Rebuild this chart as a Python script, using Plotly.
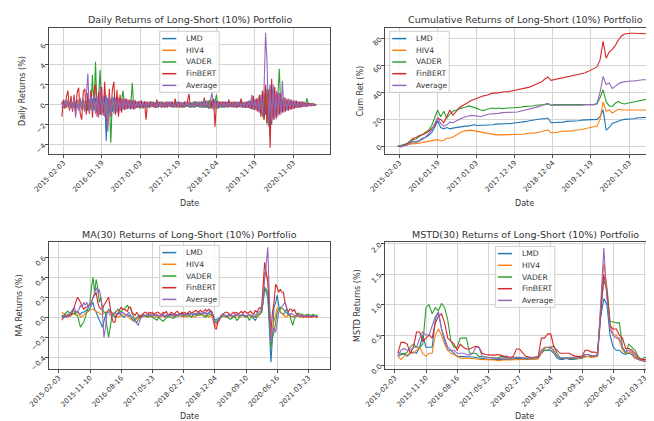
import pandas as pd
import plotly.graph_objects as go

W, H = 654, 421
FONT = "DejaVu Sans"
TXT = "#333333"

series_names = ["LMD", "HIV4", "VADER", "FinBERT", "Average"]
series_colors = ["#1f77b4", "#ff7f0e", "#2ca02c", "#d62728", "#9467bd"]

# sampled dates
dates_daily = pd.date_range("2015-01-19", periods=167, freq="14D")
dates_top = pd.date_range("2015-01-19", periods=84, freq="28D")
dates_ma = pd.date_range("2015-03-02", periods=165, freq="14D")
dates_bottom = pd.date_range("2015-03-02", periods=83, freq="28D")

top_ticks = ["2015-02-03", "2016-01-19", "2017-01-03", "2017-12-19",
             "2018-12-04", "2019-11-19", "2020-11-03"]
bottom_ticks = ["2015-02-03", "2015-11-10", "2016-08-16", "2017-05-23",
                "2018-02-27", "2018-12-04", "2019-09-10", "2020-06-16", "2021-03-23"]

# ---------------- Daily returns (%) ----------------
daily_lmd = [
    0.3, -0.2, 0.4, -0.3, 0.2, -0.4, 0.5, -0.3, 0.3, -0.5,
    0.4, -0.3, 0.6, -0.4, 0.3, -0.5, 0.4, -0.6, 0.5, -0.4,
    0.6, -0.5, 0.7, -0.6, 0.8, -1.0, 0.6, -0.8, 0.9, -3.6,
    0.7, -0.9, 0.6, -0.7, 0.8, -0.6, 0.5, -0.9, 0.6, -0.5,
    0.4, -0.5, 0.5, -0.4, 0.3, -0.5, 0.4, -0.3, 0.4, -0.3,
    0.3, -0.4, 0.3, -0.2, 0.3, -0.3, 0.2, -0.3, 0.3, -0.2,
    0.2, -0.3, 0.2, -0.2, 0.3, -0.2, 0.2, -0.3, 0.2, -0.2,
    0.3, -0.2, 0.2, -0.2, 0.3, -0.3, 0.2, -0.2, 0.2, -0.3,
    0.2, -0.2, 0.3, -0.2, 0.2, -0.3, 0.2, -0.2, 0.3, -0.2,
    0.2, -0.3, 0.3, -0.2, 0.3, -0.3, 0.4, -0.3, 0.4, -0.5,
    0.5, -0.4, 0.3, -0.3, 0.2, -0.3, 0.3, -0.2, 0.2, -0.3,
    0.2, -0.2, 0.3, -0.2, 0.2, -0.3, 0.2, -0.2, 0.3, -0.3,
    0.2, -0.3, 0.3, -0.4, 0.3, -0.5, 0.4, -0.4, 0.5, -0.6,
    0.6, -0.8, 1.2, -1.0, 1.6, -1.5, 2.0, -2.0, 1.5, -1.2,
    1.0, -0.9, 0.8, -0.7, 0.6, -0.6, 0.5, -0.5, 0.4, -0.4,
    0.3, -0.3, 0.3, -0.3, 0.2, -0.3, 0.2, -0.2, 0.2, -0.2,
    0.1, -0.1, 0.1, -0.1, 0.1, -0.05, 0.05]
daily_hiv4 = [
    -0.3, 0.3, -0.2, 0.4, -0.3, 0.3, -0.4, 0.3, -0.3, 0.4,
    -0.4, 0.5, -0.3, 0.4, -0.5, 0.4, -0.3, 0.5, -0.4, 0.3,
    -0.5, 0.6, -0.5, 0.7, -0.6, 0.5, -0.7, 0.6, -0.5, 0.6,
    -0.6, 0.5, -0.5, 0.6, -0.4, 0.5, -0.4, 0.4, -0.5, 0.4,
    -0.4, 0.3, -0.3, 0.4, -0.3, 0.3, -0.3, 0.3, -0.2, 0.3,
    -0.3, 0.2, -0.3, 0.2, -0.2, 0.3, -0.2, 0.2, -0.3, 0.2,
    -0.2, 0.2, -0.3, 0.2, -0.2, 0.3, -0.2, 0.2, -0.2, 0.3,
    -0.2, 0.2, -0.3, 0.2, -0.2, 0.2, -0.3, 0.2, -0.2, 0.2,
    -0.3, 0.2, -0.2, 0.3, -0.2, 0.2, -0.2, 0.3, -0.2, 0.2,
    -0.3, 0.2, -0.2, 0.3, -0.3, 0.3, -0.3, 0.4, -0.4, 0.3,
    -0.4, 0.3, -0.3, 0.2, -0.2, 0.3, -0.2, 0.2, -0.3, 0.2,
    -0.2, 0.3, -0.2, 0.2, -0.3, 0.2, -0.2, 0.2, -0.3, 0.2,
    -0.3, 0.2, -0.3, 0.3, -0.4, 0.3, -0.4, 0.5, -0.5, 0.6,
    -0.9, 1.0, -1.5, 1.8, -1.6, 1.4, -1.2, 1.0, -0.9, 0.8,
    -0.8, 0.6, -0.6, 0.5, -0.5, 0.4, -0.4, 0.3, -0.3, 0.3,
    -0.3, 0.2, -0.2, 0.2, -0.2, 0.2, -0.2, 0.1, -0.1, 0.1,
    -0.1, 0.1, -0.1, 0.05, -0.05, 0.05, -0.05]
daily_vader = [
    0.2, -0.3, 0.3, -0.2, 0.4, -0.3, 0.3, -0.4, 0.5, -0.3,
    0.4, -0.5, 0.5, -0.4, 0.6, -0.5, 0.4, -0.6, 0.5, -0.5,
    3.0, -0.6, 4.3, -0.7, 0.6, 3.5, -0.8, 0.7, -0.9, 0.8,
    -0.9, 0.6, -3.8, 0.7, -0.6, 0.6, -0.7, 0.5, -0.6, 0.5,
    1.4, -0.4, 0.5, -0.4, 0.4, -0.3, 2.2, -0.4, 0.4, -0.3,
    0.3, -0.3, 0.3, -0.4, 0.3, -0.3, 0.2, -0.3, 0.3, -0.2,
    0.3, -0.3, 0.2, -0.3, 0.2, -0.2, 0.3, -0.2, 0.2, -0.3,
    0.2, -0.2, 0.3, -0.3, 0.2, -0.2, 0.3, -0.2, 0.2, -0.3,
    0.3, -0.2, 0.2, -0.3, 0.2, -0.2, 0.3, -0.3, 0.2, -0.2,
    0.3, -0.2, 0.3, -0.3, 0.4, -0.3, 0.4, -0.4, 0.4, -0.3,
    0.4, 1.0, -0.4, 0.3, -0.3, 0.2, -0.3, 0.2, -0.2, 0.3,
    -0.2, 0.2, -0.3, 0.2, -0.2, 0.3, -0.2, 0.2, -0.3, 0.2,
    -0.3, 0.3, -0.3, 0.4, -0.4, 0.5, -0.5, 0.6, -0.6, 0.8,
    -1.0, 1.4, -1.4, 1.8, -2.0, 1.5, -3.0, 1.6, -1.2, 1.0,
    -0.9, 0.8, 3.6, -0.7, 0.6, -0.6, 0.5, -0.5, 0.4, -0.4,
    0.4, -0.3, 0.3, -0.3, 0.3, -0.2, 0.3, -0.2, 0.3, -0.2,
    0.67, -0.1, 0.1, -0.1, 0.1, -0.05, 0.05]
daily_finbert = [
    -1.2, 0.5, -0.4, 0.8, 1.4, -0.6, 0.9, -0.7, 1.0, -0.8,
    1.2, 1.7, -0.9, -1.5, 1.3, 1.6, -1.0, 1.2, -0.9, 1.5,
    -1.3, 1.4, 2.0, -1.2, 1.3, -1.0, 1.8, -1.1, 2.3, -1.4,
    -2.0, 1.6, -1.2, 1.5, 2.3, -1.0, 1.5, -1.2, 1.0, -0.8,
    0.6, -0.5, 0.6, -0.4, 0.5, -0.4, 0.4, -0.5, 0.4, -0.3,
    0.3, -0.3, 0.4, -0.3, 0.3, -1.5, 0.3, -0.2, 0.3, -0.2,
    0.2, -0.3, 0.5, -0.2, 0.2, -0.3, 0.2, -0.2, 0.3, -0.2,
    0.2, -0.2, 0.3, -0.2, 0.6, -0.2, 0.2, -0.3, 0.2, -0.2,
    0.3, -0.2, 0.3, 1.1, -0.3, 0.2, -0.2, 0.3, -0.2, 0.2,
    -0.2, 0.3, -0.3, 0.7, -0.3, 0.3, -0.4, 0.5, -0.3, 0.6,
    -2.2, 0.4, -0.3, 0.3, -0.2, 0.3, -0.2, 0.3, -0.2, 0.5,
    -0.2, 0.2, -0.2, 0.3, -0.3, 0.2, -0.2, 0.6, -0.2, 0.2,
    -0.3, 0.3, -0.3, 0.4, -0.4, 0.9, -0.5, 0.6, -0.7, 1.0,
    -1.2, 1.4, -1.5, 2.0, -1.8, 1.5, -4.3, 2.6, -1.5, 1.8,
    -1.4, 1.2, -1.0, 1.1, -0.8, 0.8, -0.7, 0.6, -0.6, 0.5,
    -0.5, 0.4, -0.4, 0.4, -0.3, 0.3, -0.3, 0.3, -0.2, 0.2,
    -0.2, 0.2, -0.1, 0.1, -0.1, 0.05, -0.05]
daily_average = [
    0.2, -0.3, 0.4, -0.3, 0.5, -0.4, 0.4, -0.5, 0.6, -1.3,
    0.5, -0.6, 0.7, -0.5, 0.6, -0.7, 0.8, 3.1, -0.8, 0.9,
    -0.7, 1.0, -0.9, 0.8, -1.3, 1.9, -1.0, 0.9, -1.2, 1.0,
    -2.7, 0.9, -1.0, 0.8, -0.9, 0.7, -0.8, 0.7, -0.6, 0.6,
    -0.5, 0.6, -0.5, 0.5, -0.4, 0.5, -0.4, 0.4, -0.4, 0.3,
    -0.3, 0.4, -0.3, 0.3, -0.3, 0.3, -0.3, 0.3, -0.2, 0.3,
    -0.3, 0.2, -0.3, 0.3, -0.2, 0.3, -0.3, 0.2, -0.3, 0.3,
    -0.2, 0.3, -0.3, 0.2, -0.3, 0.3, -0.2, 0.3, -0.3, 0.2,
    -0.3, 0.3, -0.2, 0.3, -0.3, 0.2, -0.3, 0.3, -0.2, 0.3,
    -0.3, 0.3, -0.3, 0.4, -0.3, 0.4, -0.4, 0.4, 1.2, -0.5,
    0.4, -0.4, 0.3, -0.3, 0.3, -0.3, 0.2, -0.3, 0.3, -0.2,
    0.3, -0.3, 0.2, -0.3, 0.3, -0.2, 0.3, -0.3, 0.2, -0.3,
    0.3, -0.3, 0.4, -0.4, 1.0, -0.5, 0.5, -0.6, 0.7, -0.8,
    1.0, -1.2, 1.5, 7.2, 4.1, -2.2, 1.8, -1.6, 2.0, -1.5,
    1.4, -1.2, 1.2, -1.0, 2.4, -0.8, 0.7, -0.6, 0.6, -0.5,
    0.5, -0.4, 0.4, -0.3, 0.3, -0.3, 0.3, -0.2, 0.2, -0.2,
    0.1, -0.1, 0.1, -0.05, 0.05, -0.03, 0.02]

# ---------------- Cumulative returns (%) ----------------
cum_lmd = [
    0, 0, 0.5, 1, 2, 3.5, 3, 4, 6, 6.5,
    8, 10, 14, 19, 14, 13, 14, 13, 13.5, 14,
    14.5, 14.5, 15, 15, 15.5, 16, 15.5, 15.5, 16, 16,
    16, 16, 16.5, 16.5, 16.5, 17, 17, 17, 17.3, 17.5,
    18, 18, 18.5, 19, 19.5, 20, 20, 20.5, 20.5, 21,
    17.5, 17.5, 18, 18, 18, 18.5, 18.5, 19, 19, 19,
    19.5, 19.5, 19.5, 20, 20, 20, 22, 27, 12, 14,
    17, 18, 19, 19.5, 20, 20, 20.5, 20.5, 21, 21,
    21.5, 21.5, 22, 22.2]
cum_hiv4 = [
    0, 0.5, 1, 1, 1.5, 2, 2, 2.5, 2.5, 3,
    3.5, 4, 5, 5, 4, 4.5, 6, 6, 7, 8.5,
    10, 11, 11.5, 12, 12, 11.5, 11, 10.5, 10, 9.5,
    9, 9, 8.5, 8.5, 8.5, 8.5, 8.5, 8.5, 8.6, 8.6,
    9, 9, 9.5, 9.5, 10, 10, 10.5, 11, 11.5, 12.3,
    9.9, 10, 10.5, 11, 11, 11, 11.5, 11.5, 12, 12,
    12.5, 13, 13.5, 14, 14.5, 15, 20, 33, 26, 27,
    24.7, 26, 27.5, 27, 27, 26.5, 26.5, 26.5, 26.5, 27,
    27, 27, 27, 27.2]
cum_vader = [
    0, 0.5, 1, 2, 3, 5, 5.5, 7, 9, 10,
    12, 15, 21, 27, 22, 26, 21, 24, 26, 27,
    28, 28.5, 29, 30, 29.5, 29, 28, 27, 26.5, 27.5,
    28, 28.5, 28, 28.5, 28, 28.5, 28.5, 28.5, 28.5, 29,
    29, 29.5, 29.5, 30, 30, 30.5, 30.5, 31, 31, 31.5,
    30.5, 31, 31, 30.5, 31, 31, 30.5, 30.5, 31, 31,
    31, 31, 31, 31, 31, 31.5, 36, 42, 33, 30,
    29.6, 32, 33.3, 32, 31.5, 32, 32.5, 33, 33.5, 34,
    34.5, 35, 35.5, 35.8]
cum_finbert = [
    0, -0.5, 1, 2, 4, 6, 6.5, 8, 8.6, 9.5,
    11, 13, 15, 21, 20, 17.5, 22, 27, 23, 26,
    28.5, 30, 31.5, 33, 34, 35, 36, 37, 37.5, 38,
    39, 39.5, 39.5, 40, 40, 40.5, 40.5, 41, 41, 41.5,
    42, 42.5, 43, 44, 45, 46, 47, 48, 50, 51.5,
    49, 49.5, 50, 50.5, 51, 51.5, 51.5, 52, 52.5, 53,
    53.5, 54.5, 55.5, 56.5, 57.5, 59, 64, 78, 65.5, 70,
    72, 75, 79, 82, 83.5, 84, 84, 84, 84, 84,
    84, 83.5, 83.5, 83.5]
cum_average = [
    0, 0, 0.5, 1, 2, 3.6, 3.5, 4.5, 5, 7,
    9, 12, 16, 21, 17, 15, 16, 18, 17.5, 19,
    20, 21, 22, 22.5, 23, 23, 22.5, 22, 23, 23.5,
    24, 24, 24.5, 24.5, 25, 25, 25, 25, 25, 25.5,
    26, 26.5, 27, 28, 28.5, 29, 29.5, 30.5, 31, 32,
    30.5, 30.5, 30.5, 30.5, 30.5, 30.5, 30, 30, 30.5, 30.5,
    30.5, 31, 31, 31, 31, 32, 40, 52, 46, 47,
    43, 44.5, 46.5, 47.5, 48, 48, 48.5, 48.5, 49, 49,
    49.5, 49.5, 50, 50]

# ---------------- MA(30) returns (%) ----------------
ma_lmd = [
    0.02, 0.01, 0.0, 0.02, 0.03, 0.01, 0.02, 0.04, 0.04, 0.05,
    0.06, 0.04, 0.03, 0.05, 0.05, 0.06, 0.08, 0.06, 0.1, 0.12,
    0.15, 0.08, 0.05, 0.0, -0.03, -0.06, -0.1, -0.04, 0.02, 0.05,
    0.08, 0.06, 0.05, 0.02, 0.0, 0.02, 0.03, 0.04, 0.02, 0.01,
    0.0, 0.02, 0.03, 0.01, 0.02, -0.02, -0.04, -0.02, 0.0, 0.01,
    0.02, 0.0, 0.01, 0.02, 0.01, 0.03, 0.02, 0.01, 0.02, 0.03,
    0.01, 0.02, 0.0, 0.01, 0.02, 0.03, 0.01, 0.02, 0.03, 0.02,
    0.03, 0.01, 0.02, 0.03, 0.01, 0.02, 0.03, 0.04, 0.02, 0.03,
    0.02, 0.04, 0.03, 0.04, 0.02, 0.03, 0.02, 0.03, 0.04, 0.03,
    0.03, 0.04, 0.05, 0.03, 0.04, 0.06, 0.05, 0.02, -0.03, -0.02,
    -0.02, 0.0, 0.0, 0.01, 0.02, 0.02, 0.01, 0.03, 0.02, 0.0,
    0.0, 0.01, 0.02, 0.03, 0.02, 0.02, 0.03, 0.01, 0.02, 0.01,
    0.03, 0.02, 0.0, -0.02, -0.03, 0.0, 0.02, 0.04, 0.05, 0.15,
    0.3, 0.25, 0.2, -0.1, -0.45, -0.2, 0.1, 0.15, 0.22, 0.12,
    0.05, 0.04, 0.03, 0.05, 0.08, 0.05, 0.02, 0.01, 0.0, 0.01,
    0.02, 0.01, 0.01, 0.0, 0.01, 0.02, 0.01, 0.01, 0.02, 0.01,
    0.01, 0.02, 0.01, 0.01, 0.01]
ma_hiv4 = [
    0.05, 0.04, 0.03, 0.02, 0.0, 0.01, 0.02, 0.03, 0.03, 0.04,
    0.05, 0.03, 0.0, 0.01, 0.02, 0.04, 0.05, 0.06, 0.07, 0.08,
    0.08, 0.07, 0.06, 0.05, 0.04, 0.03, 0.03, 0.04, 0.05, 0.06,
    0.06, 0.05, 0.05, 0.03, 0.02, 0.01, 0.0, 0.01, 0.01, 0.02,
    0.03, 0.02, 0.01, 0.0, -0.02, -0.03, -0.03, -0.02, -0.02, 0.0,
    0.0, 0.01, 0.01, 0.02, 0.02, 0.01, 0.0, 0.01, 0.01, 0.0,
    0.0, 0.01, 0.01, 0.0, 0.02, 0.01, 0.0, 0.01, 0.01, 0.02,
    0.02, 0.01, 0.0, 0.01, 0.02, 0.01, 0.01, 0.02, 0.0, 0.01,
    0.0, 0.01, 0.02, 0.01, 0.01, 0.0, 0.01, 0.02, 0.03, 0.02,
    0.03, 0.02, 0.02, 0.01, 0.0, 0.01, 0.02, -0.04, -0.09, -0.07,
    -0.04, -0.02, 0.0, 0.01, 0.01, 0.0, 0.0, 0.01, 0.02, 0.01,
    0.0, 0.01, 0.02, 0.01, 0.0, 0.01, 0.02, 0.01, 0.0, 0.01,
    0.02, 0.01, 0.0, 0.0, 0.01, 0.0, 0.02, 0.03, 0.05, 0.2,
    0.45, 0.42, 0.4, 0.1, -0.2, -0.1, -0.05, 0.02, 0.1, 0.08,
    0.05, 0.03, 0.02, 0.01, 0.0, 0.02, 0.03, 0.01, 0.0, 0.01,
    0.01, 0.02, 0.01, 0.0, 0.01, 0.0, 0.01, 0.0, 0.01, 0.0,
    0.01, 0.0, 0.01, 0.01, 0.0]
ma_vader = [
    0.0, 0.02, 0.03, 0.05, 0.06, 0.04, 0.05, 0.07, 0.06, 0.02,
    0.02, -0.04, -0.1, -0.07, -0.05, 0.0, 0.05, 0.08, 0.15, 0.3,
    0.4, 0.25, 0.38, 0.3, 0.15, 0.2, 0.1, 0.05, 0.05, -0.1,
    -0.2, -0.1, 0.0, 0.03, 0.05, 0.06, 0.08, 0.07, 0.05, 0.08,
    0.08, 0.1, 0.12, 0.1, 0.1, 0.04, 0.0, -0.03, -0.05, -0.02,
    0.0, 0.02, 0.03, 0.02, 0.01, 0.0, 0.02, 0.01, 0.0, -0.01,
    -0.02, -0.03, 0.0, -0.02, -0.03, -0.04, -0.02, 0.0, 0.01, 0.0,
    0.0, -0.01, -0.01, 0.01, 0.02, 0.03, 0.03, 0.02, 0.01, 0.02,
    0.03, 0.02, 0.01, 0.0, 0.02, 0.03, 0.04, 0.02, 0.02, 0.03,
    0.03, 0.01, 0.0, 0.02, 0.02, 0.03, 0.02, 0.01, -0.05, -0.04,
    -0.03, -0.01, 0.0, 0.01, 0.02, 0.01, 0.0, -0.01, -0.02, -0.01,
    0.0, 0.01, -0.03, -0.02, 0.01, 0.02, 0.02, 0.01, 0.0, 0.01,
    -0.03, -0.01, 0.02, 0.01, 0.0, 0.02, 0.03, 0.04, 0.05, 0.15,
    0.3, 0.28, 0.25, 0.0, -0.3, -0.2, -0.15, -0.05, 0.05, 0.08,
    0.1, 0.09, 0.08, 0.06, 0.05, 0.02, 0.02, -0.03, -0.08, -0.02,
    0.02, 0.04, 0.04, 0.03, 0.03, 0.02, 0.02, 0.03, 0.03, 0.02,
    0.02, 0.03, 0.02, 0.02, 0.01]
ma_finbert = [
    -0.03, -0.01, 0.02, 0.01, 0.01, 0.02, 0.03, 0.06, 0.1, 0.15,
    0.2, 0.18, 0.15, 0.12, 0.08, 0.1, 0.1, 0.12, 0.12, 0.15,
    0.2, 0.22, 0.25, 0.15, 0.1, 0.08, 0.08, 0.12, 0.15, 0.18,
    0.2, 0.1, 0.0, -0.05, -0.05, 0.02, 0.05, 0.08, 0.1, 0.08,
    0.08, 0.07, 0.06, 0.1, 0.1, 0.05, 0.03, 0.02, 0.05, 0.03,
    0.0, 0.02, 0.04, 0.05, 0.05, 0.03, 0.05, 0.04, 0.05, 0.03,
    0.04, 0.05, 0.05, 0.03, 0.03, 0.05, 0.04, 0.06, 0.02, 0.03,
    0.05, 0.04, 0.03, 0.05, 0.06, 0.04, 0.03, 0.05, 0.04, 0.05,
    0.03, 0.05, 0.06, 0.04, 0.05, 0.06, 0.07, 0.05, 0.06, 0.07,
    0.05, 0.07, 0.08, 0.06, 0.08, 0.07, 0.06, 0.02, -0.1, -0.12,
    -0.05, -0.03, 0.02, 0.03, 0.04, 0.05, 0.05, 0.04, 0.02, 0.04,
    0.05, 0.04, 0.05, 0.03, 0.05, 0.06, 0.04, 0.06, 0.05, 0.04,
    0.05, 0.06, 0.04, 0.03, 0.07, 0.05, 0.08, 0.1, 0.08, 0.3,
    0.55, 0.45, 0.35, 0.1, -0.15, 0.05, 0.15, 0.33, 0.3, 0.25,
    0.28, 0.25, 0.25, 0.15, 0.1, 0.05, 0.08, 0.08, 0.06, 0.08,
    0.04, 0.03, 0.02, 0.02, 0.01, 0.0, 0.01, 0.0, 0.0, 0.01,
    0.0, 0.01, 0.01, 0.0, 0.01]
ma_average = [
    0.0, 0.01, 0.02, 0.0, 0.01, 0.03, 0.05, 0.08, 0.1, 0.05,
    0.05, 0.08, 0.12, 0.1, 0.15, 0.12, 0.15, 0.1, 0.12, 0.15,
    0.2, 0.25, 0.3, 0.25, 0.28, 0.2, 0.05, -0.2, -0.1, 0.05,
    0.05, 0.02, 0.02, 0.04, 0.05, 0.03, 0.04, 0.05, 0.03, 0.05,
    0.04, 0.02, 0.03, 0.05, 0.02, 0.0, -0.02, -0.05, -0.07, -0.08,
    -0.03, 0.0, 0.02, 0.01, 0.02, 0.03, 0.02, 0.03, 0.01, 0.02,
    0.02, 0.03, 0.01, 0.02, 0.01, 0.03, 0.0, 0.02, 0.03, 0.01,
    0.02, 0.03, 0.01, 0.02, 0.03, 0.02, 0.03, 0.01, 0.02, 0.03,
    0.03, 0.02, 0.03, 0.04, 0.03, 0.04, 0.02, 0.04, 0.05, 0.04,
    0.03, 0.05, 0.04, 0.03, 0.05, 0.04, 0.04, 0.0, -0.05, -0.06,
    -0.03, -0.01, 0.01, 0.03, 0.02, 0.01, 0.0, 0.02, 0.03, 0.02,
    0.01, 0.03, 0.02, 0.03, 0.01, 0.02, 0.03, 0.02, 0.01, 0.02,
    0.03, 0.02, 0.01, 0.0, 0.02, 0.04, 0.05, 0.06, 0.08, 0.2,
    0.35, 0.55, 0.7, 0.2, -0.25, -0.15, -0.1, -0.15, -0.05, 0.05,
    0.08, 0.1, 0.12, 0.15, 0.1, 0.03, 0.02, 0.04, 0.03, 0.02,
    0.01, 0.02, 0.02, 0.01, 0.01, 0.02, 0.01, 0.02, 0.01, 0.01,
    0.02, 0.01, 0.01, 0.01, 0.01]

# ---------------- MSTD(30) returns (%) ----------------
mstd_lmd = [
    0.15, 0.18, 0.2, 0.15, 0.2, 0.22, 0.2, 0.3, 0.5, 0.3,
    0.3, 0.3, 0.75, 0.88, 0.6, 0.4, 0.25, 0.25, 0.2, 0.15,
    0.15, 0.15, 0.14, 0.15, 0.14, 0.13, 0.12, 0.12, 0.11, 0.1,
    0.1, 0.1, 0.09, 0.1, 0.1, 0.1, 0.09, 0.1, 0.12, 0.11,
    0.1, 0.1, 0.1, 0.11, 0.1, 0.12, 0.2, 0.25, 0.25, 0.25,
    0.2, 0.12, 0.1, 0.1, 0.12, 0.1, 0.1, 0.1, 0.11, 0.12,
    0.15, 0.15, 0.14, 0.14, 0.15, 0.8, 1.1, 1.0, 0.5, 0.3,
    0.25, 0.25, 0.2, 0.18, 0.2, 0.18, 0.12, 0.1, 0.08, 0.07,
    0.07, 0.06, 0.05]
mstd_hiv4 = [
    0.15, 0.1, 0.15, 0.18, 0.2, 0.2, 0.25, 0.3, 0.2, 0.15,
    0.2, 0.2, 0.5, 0.6, 0.5, 0.35, 0.25, 0.2, 0.18, 0.15,
    0.12, 0.12, 0.12, 0.12, 0.11, 0.11, 0.1, 0.1, 0.09, 0.09,
    0.09, 0.09, 0.08, 0.09, 0.09, 0.09, 0.09, 0.1, 0.1, 0.1,
    0.1, 0.11, 0.1, 0.1, 0.1, 0.11, 0.2, 0.28, 0.3, 0.3,
    0.22, 0.15, 0.12, 0.11, 0.11, 0.12, 0.11, 0.11, 0.12, 0.13,
    0.15, 0.15, 0.13, 0.14, 0.16, 0.9, 1.68, 1.3, 0.7, 0.5,
    0.5, 0.4, 0.25, 0.2, 0.22, 0.2, 0.13, 0.1, 0.08, 0.07,
    0.07, 0.06, 0.04]
mstd_vader = [
    0.2, 0.2, 0.18, 0.22, 0.3, 0.35, 0.3, 0.3, 0.35, 0.95,
    1.0, 0.85, 0.95, 0.9, 1.02, 0.95, 0.75, 0.4, 0.3, 0.3,
    0.45, 0.45, 0.45, 0.2, 0.2, 0.2, 0.15, 0.15, 0.14, 0.13,
    0.13, 0.12, 0.12, 0.15, 0.14, 0.13, 0.12, 0.13, 0.13, 0.14,
    0.13, 0.12, 0.13, 0.12, 0.12, 0.13, 0.25, 0.25, 0.25, 0.3,
    0.32, 0.2, 0.12, 0.12, 0.12, 0.13, 0.12, 0.12, 0.14, 0.13,
    0.18, 0.18, 0.16, 0.16, 0.18, 0.9, 1.4, 1.25, 0.72, 0.72,
    0.7, 0.7, 0.3, 0.2, 0.35, 0.3, 0.25, 0.15, 0.1, 0.13,
    0.13, 0.1, 0.05]
mstd_finbert = [
    0.2, 0.38, 0.38, 0.35, 0.2, 0.3, 0.55, 0.55, 0.4, 0.45,
    0.5, 0.45, 0.7, 0.8, 0.85, 0.7, 0.45, 0.4, 0.35, 0.25,
    0.35, 0.3, 0.27, 0.27, 0.3, 0.32, 0.3, 0.2, 0.18, 0.17,
    0.17, 0.17, 0.18, 0.17, 0.15, 0.15, 0.13, 0.15, 0.27, 0.27,
    0.2, 0.15, 0.14, 0.13, 0.14, 0.15, 0.45, 0.45, 0.52, 0.52,
    0.3, 0.25, 0.2, 0.2, 0.2, 0.2, 0.17, 0.15, 0.15, 0.15,
    0.25, 0.25, 0.22, 0.22, 0.2, 0.9, 1.5, 1.2, 0.65, 0.6,
    0.6, 0.5, 0.45, 0.28, 0.28, 0.25, 0.2, 0.12, 0.1, 0.1,
    0.08, 0.06, 0.05]
mstd_average = [
    0.15, 0.25, 0.28, 0.25, 0.25, 0.3, 0.3, 0.45, 0.55, 0.5,
    0.5, 0.65, 0.8, 0.88, 0.6, 0.45, 0.3, 0.25, 0.25, 0.2,
    0.2, 0.2, 0.18, 0.17, 0.2, 0.3, 0.3, 0.15, 0.14, 0.13,
    0.12, 0.12, 0.11, 0.12, 0.12, 0.11, 0.11, 0.12, 0.14, 0.13,
    0.12, 0.12, 0.12, 0.12, 0.13, 0.14, 0.25, 0.3, 0.3, 0.3,
    0.25, 0.15, 0.12, 0.12, 0.13, 0.12, 0.12, 0.12, 0.13, 0.14,
    0.18, 0.18, 0.16, 0.16, 0.18, 1.0, 1.93, 1.1, 0.6, 0.5,
    0.45, 0.45, 0.3, 0.22, 0.25, 0.22, 0.15, 0.1, 0.08, 0.07,
    0.07, 0.06, 0.05]

panels_data = [
    (dates_daily, [daily_lmd, daily_hiv4, daily_vader, daily_finbert, daily_average]),
    (dates_top, [cum_lmd, cum_hiv4, cum_vader, cum_finbert, cum_average]),
    (dates_ma, [ma_lmd, ma_hiv4, ma_vader, ma_finbert, ma_average]),
    (dates_bottom, [mstd_lmd, mstd_hiv4, mstd_vader, mstd_finbert, mstd_average]),
]
for dts, vals in panels_data:
    for v in vals:
        assert len(v) == len(dts), (len(v), len(dts))

titles = ["Daily Returns of Long-Short (10%) Portfolio",
          "Cumulative Returns of Long-Short (10%) Portfolio",
          "MA(30) Returns of Long-Short (10%) Portfolio",
          "MSTD(30) Returns of Long-Short (10%) Portfolio"]
ylabels = ["Daily Returns (%)", "Cum Ret (%)", "MA Returns (%)", "MSTD Returns (%)"]


def fx(p):
    return p / W


def fy(p):
    return 1 - p / H


def date_at(r0, r1, frac):
    t0, t1 = pd.Timestamp(r0), pd.Timestamp(r1)
    return (t0 + (t1 - t0) * frac).strftime("%Y-%m-%d %H:%M")


top_range = ("2014-09-24", "2021-10-05")
bot_range = ("2014-11-07", "2021-10-02")
LEFT_W = 281.0
RIGHT_W = 654 - 377.0

panels = [
    dict(xd=(41, 322), yd=(20, 146),
         xr=[top_range[0], top_range[1]], yr=[-4.93, 7.67],
         yt=[-4, -2, 0, 2, 4, 6], yf="d", xt=top_ticks, mirror_y=True,
         title_xy=(181.5, 12), date_xy=(181.5, 195.5), ylab_xy=(14, 83),
         leg=(151.7, 23.3)),
    dict(xd=(377, 654), yd=(20, 146),
         xr=[top_range[0], date_at(*top_range, RIGHT_W / LEFT_W)], yr=[-5.7, 87.9],
         yt=[0, 20, 40, 60, 80], yf="d", xt=top_ticks, mirror_y=False,
         title_xy=(517.5, 12), date_xy=(516, 195.5), ylab_xy=(351.5, 83),
         leg=(381.7, 23.3)),
    dict(xd=(41, 322), yd=(234, 361),
         xr=[bot_range[0], bot_range[1]], yr=[-0.517, 0.753],
         yt=[-0.4, -0.2, 0.0, 0.2, 0.4, 0.6], yf=".1f", xt=bottom_ticks, mirror_y=True,
         title_xy=(181.5, 226.5), date_xy=(181.5, 408.5), ylab_xy=(10.5, 298),
         leg=(151.7, 237.3)),
    dict(xd=(377, 654), yd=(234, 361),
         xr=[bot_range[0], date_at(*bot_range, RIGHT_W / LEFT_W)], yr=[-0.058, 2.03],
         yt=[0.0, 0.5, 1.0, 1.5, 2.0], yf=".1f", xt=bottom_ticks, mirror_y=False,
         title_xy=(517.5, 226.5), date_xy=(516, 408.5), ylab_xy=(349, 298),
         leg=(487.3, 238.3)),
]

fig = go.Figure()
layout = dict(
    width=W, height=H, margin=dict(l=0, r=0, t=0, b=0),
    paper_bgcolor="white", plot_bgcolor="white",
    font=dict(family=FONT, color=TXT, size=8),
    showlegend=False,
)
shapes = []
annotations = []

GRID = "#d4d4d4"
SPINE = "#4a4a4a"
TICKFONT = dict(size=7, color=TXT, family=FONT)

for k, (spec, (dts, vals)) in enumerate(zip(panels, panels_data)):
    n = "" if k == 0 else str(k + 1)
    xa, ya = "x" + n, "y" + n
    for name, color, v in zip(series_names, series_colors, vals):
        fig.add_trace(go.Scatter(
            x=dts, y=v, mode="lines", name=name,
            line=dict(color=color, width=1.1),
            xaxis=xa, yaxis=ya, showlegend=False, hoverinfo="skip"))
    layout["xaxis" + n] = dict(
        domain=[fx(spec["xd"][0]), fx(spec["xd"][1])], anchor=ya,
        type="date", range=spec["xr"],
        tickmode="array", tickvals=spec["xt"], ticktext=spec["xt"],
        tickangle=-45, tickfont=TICKFONT, ticklabelstandoff=-2,
        showgrid=True, gridcolor=GRID, gridwidth=1,
        showline=True, linecolor=SPINE, linewidth=1, mirror=True,
        ticks="outside", ticklen=3, tickwidth=1, tickcolor=SPINE,
        zeroline=False, automargin=False, fixedrange=True)
    layout["yaxis" + n] = dict(
        domain=[fy(spec["yd"][1]), fy(spec["yd"][0])], anchor=xa,
        range=spec["yr"], tickmode="array", tickvals=spec["yt"],
        tickformat=spec["yf"], tickangle=-45, tickfont=TICKFONT,
        showgrid=True, gridcolor=GRID, gridwidth=1,
        showline=True, linecolor=SPINE, linewidth=1, mirror=spec["mirror_y"],
        ticks="outside", ticklen=3, tickwidth=1, tickcolor=SPINE,
        zeroline=False, automargin=False, fixedrange=True)

    tx, ty = spec["title_xy"]
    annotations.append(dict(text=titles[k], x=fx(tx), y=fy(ty), xref="paper", yref="paper",
                            xanchor="center", yanchor="middle", showarrow=False,
                            font=dict(size=9.5, color=TXT, family=FONT)))
    dx, dy = spec["date_xy"]
    annotations.append(dict(text="Date", x=fx(dx), y=fy(dy), xref="paper", yref="paper",
                            xanchor="center", yanchor="middle", showarrow=False, borderpad=0,
                            font=dict(size=8, color=TXT, family=FONT)))
    lx, ly = spec["ylab_xy"]
    annotations.append(dict(text=ylabels[k], x=fx(lx), y=fy(ly), xref="paper", yref="paper",
                            xanchor="center", yanchor="middle", showarrow=False, textangle=-90,
                            borderpad=0, font=dict(size=8, color=TXT, family=FONT)))

    bx, by = spec["leg"]
    shapes.append(dict(type="rect", xref="paper", yref="paper",
                       x0=fx(bx), x1=fx(bx + 59.5), y0=fy(by + 61), y1=fy(by),
                       fillcolor="rgba(255,255,255,0.8)",
                       line=dict(color="#cccccc", width=1), layer="above"))
    for i, (name, color) in enumerate(zip(series_names, series_colors)):
        ey = by + 7.3 + 11.7 * i
        shapes.append(dict(type="line", xref="paper", yref="paper",
                           x0=fx(bx + 2.6), x1=fx(bx + 16.6), y0=fy(ey), y1=fy(ey),
                           line=dict(color=color, width=1.5), layer="above"))
        annotations.append(dict(text=name, x=fx(bx + 24.5), y=fy(ey), xref="paper", yref="paper",
                                xanchor="left", yanchor="middle", showarrow=False,
                                font=dict(size=7.6, color=TXT, family=FONT)))

layout["shapes"] = shapes
layout["annotations"] = annotations
fig.update_layout(**layout)
fig.write_html("out.html", config={"displayModeBar": False, "staticPlot": True})
